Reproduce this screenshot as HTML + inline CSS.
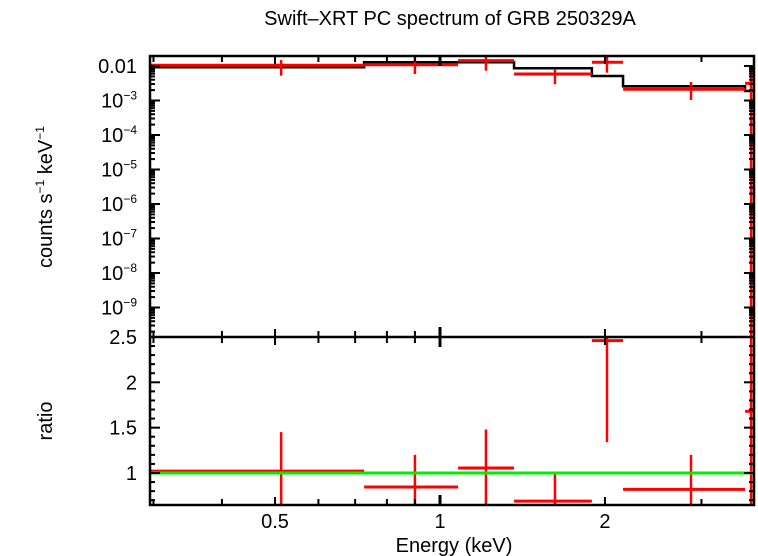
<!DOCTYPE html>
<html><head><meta charset="utf-8"><style>
body{margin:0;background:#fff}
svg{display:block;font-family:"Liberation Sans",sans-serif}
</style></head><body>
<svg id="c" width="758" height="556" viewBox="0 0 758 556">
<text x="450" y="25" font-size="20" text-anchor="middle">Swift–XRT PC spectrum of GRB 250329A</text>
<text x="454" y="552" font-size="20" text-anchor="middle">Energy (keV)</text>
<text transform="translate(52,197) rotate(-90)" font-size="20" text-anchor="middle">counts s<tspan font-size="12" dy="-8">−1</tspan><tspan dy="8"> keV</tspan><tspan font-size="12" dy="-8">−1</tspan></text>
<text transform="translate(52,421) rotate(-90)" font-size="20" text-anchor="middle">ratio</text>
<g id="g"></g>
</svg>
<script>
const binLo=[0.296,0.727,1.079,1.365,1.893,2.158,3.603];
const binHi=[0.727,1.079,1.365,1.893,2.158,3.603,3.74];
const binCenter=[0.513,0.900,1.213,1.621,2.017,2.871,3.696];
const logRate=[-1.98,-1.962,-1.846,-2.232,-1.893,-2.675,-2.501];
const logRateHi=[-1.826,-1.759,-1.681,-2.087,-1.71,-2.464,-2.17];
const logRateLo=[-2.281,-2.232,-2.136,-2.53,-2.194,-2.986,-12];
const logModel=[-2.038,-1.893,-1.893,-2.067,-2.29,-2.588,-2.725];
const ratio=[1.02,0.846,1.055,0.69,2.46,0.82,1.68];
const ratioHi=[1.45,1.2,1.48,1.01,2.52,1.2,3];
const ratioLo=[0.5,0.5,0.5,0.5,1.34,0.5,0];
const yTickExp=[-2,-3,-4,-5,-6,-7,-8,-9];
const rTicks=[2.5,2,1.5,1];
const xTicks=[0.5,1,2];
const X0=150,X1=754,T0=56,T1=337,B1=505;
const xs=e=>440+548*Math.log10(e);
const yt=l=>66+(-2-l)*34.5;
const yr=r=>473-(r-1)*90.7;
const g=document.getElementById('g');
const NS='http://www.w3.org/2000/svg';
function mk(t,a){const e=document.createElementNS(NS,t);for(const k in a)e.setAttribute(k,a[k]);g.appendChild(e);return e;}
const cl=v=>Math.max(T0,Math.min(T1,v));
const clr=v=>Math.max(T1,Math.min(B1,v));
let d='';
for(let i=0;i<binLo.length;i++){const y=yt(logModel[i]);d+=(i?'L':'M')+xs(binLo[i])+','+y+'L'+Math.min(X1,xs(binHi[i]))+','+y;}
let p=mk('path',{d:d,fill:'none',stroke:'#000','stroke-width':2.5});

for(let i=0;i<binLo.length;i++){
 const x=xs(binCenter[i]),xl=xs(binLo[i]),xh=Math.min(X1,xs(binHi[i]));
 let a=mk('line',{x1:xl,x2:xh,y1:yt(logRate[i]),y2:yt(logRate[i]),stroke:'#f00','stroke-width':3});
 
 let b=mk('line',{x1:x,x2:x,y1:cl(yt(logRateHi[i])),y2:cl(yt(logRateLo[i])),stroke:'#f00','stroke-width':2.5});
 
 let c=mk('line',{x1:xl,x2:xh,y1:yr(ratio[i]),y2:yr(ratio[i]),stroke:'#f00','stroke-width':3});
 
 let e=mk('line',{x1:x,x2:x,y1:clr(yr(ratioHi[i])),y2:clr(yr(ratioLo[i])),stroke:'#f00','stroke-width':2.5});
 
}
let gl=mk('line',{x1:X0,x2:X1,y1:yr(1),y2:yr(1),stroke:'#0e0','stroke-width':3});

let f=mk('rect',{x:X0,y:T0,width:X1-X0,height:B1-T0,fill:'none',stroke:'#000','stroke-width':2.5});

let m=mk('line',{x1:X0,x2:X1,y1:T1,y2:T1,stroke:'#000','stroke-width':2.5});

const minor=[0.3,0.4,0.5,0.6,0.7,0.8,0.9,1,2,3];
minor.forEach(v=>{const x=xs(v),L=(v==1||v==0.5||v==2)?8:6,W=v==1?3:2;
 [[T0,1],[T1,1],[T1,-1],[B1,-1]].forEach(([y,s])=>{let t=mk('line',{x1:x,x2:x,y1:y,y2:y+s*(v==1?10:L),stroke:'#000','stroke-width':W});});});
xTicks.forEach(v=>{let t=mk('text',{x:xs(v),y:528,'font-size':20,'text-anchor':'middle'});t.textContent=String(v);});
for(let e=-2;e>=-10;e--){for(let k=1;k<10;k++){const y=yt(e+Math.log10(k));if(y<T0||y>T1)continue;const L=k==1?10:5;
 [[X0,1],[X1,-1]].forEach(([x,s])=>{let t=mk('line',{x1:x,x2:x+s*L,y1:y,y2:y,stroke:'#000','stroke-width':2});});}}
yTickExp.forEach(e=>{let t=mk('text',{x:137,y:yt(e)+7,'font-size':20,'text-anchor':'end'});
 if(e==-2)t.textContent='0.01';else t.innerHTML='10<tspan font-size="12" dy="-8">−'+(-e)+'</tspan>';
 });
for(let r=0.65;r<=2.5;r+=0.1){const rr=Math.round(r*10)/10;const y=yr(rr);if(y<T1||y>B1)continue;const L=(Math.round(rr*10)%5==0)?10:5;
 [[X0,1],[X1,-1]].forEach(([x,s])=>{let t=mk('line',{x1:x,x2:x+s*L,y1:y,y2:y,stroke:'#000','stroke-width':2});});}
rTicks.forEach(r=>{let t=mk('text',{x:137,y:yr(r)+7,'font-size':20,'text-anchor':'end'});t.textContent=String(r);});
</script>
</body></html>
